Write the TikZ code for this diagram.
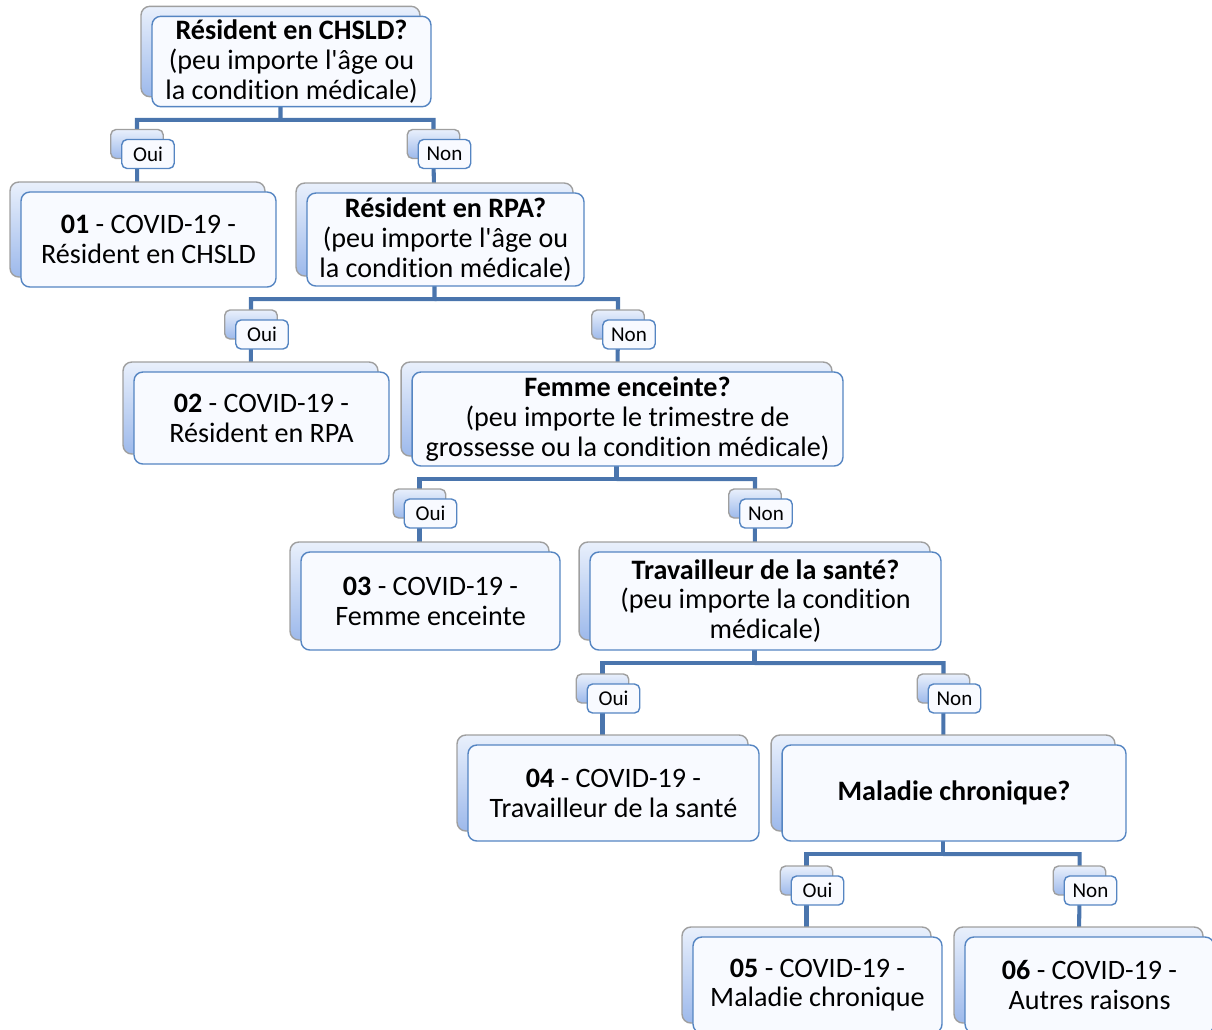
\documentclass[tikz,border=0pt]{standalone}
\usepackage{fontspec}
\setmainfont{Carlito}[Ligatures=NoCommon]
\usetikzlibrary{shadows,backgrounds}

\definecolor{lienbleu}{HTML}{4A75AD}
\definecolor{bordbleu}{HTML}{5585C2}
\definecolor{fondhaut}{HTML}{E9F0FC}
\definecolor{fondbas}{HTML}{9DB9EB}
\definecolor{fondcarte}{HTML}{F8FAFF}

\tikzset{
  carte/.style={draw=bordbleu, line width=0.8pt, rounded corners=5pt, fill=fondcarte, align=center, inner sep=2pt,
    general shadow={shadow xshift=-0.22cm, shadow yshift=0.2cm, draw=gray!75, top color=fondhaut, bottom color=fondbas}},
  question/.style={carte, font=\fontsize{16}{17}\selectfont},
  choix/.style={carte, font=\fontsize{12}{13}\selectfont, minimum width=1.05cm, minimum height=0.58cm, rounded corners=3pt},
  lien/.style={draw=lienbleu, line width=2.3pt}
}

\begin{document}
\begin{tikzpicture}[x=0.02cm, y=-0.02cm]
\useasboundingbox (0,0) rectangle (1212,1029);

% questions
\node[question, minimum width=5.58cm, minimum height=1.78cm] (q1) at (291.5,61.5)
  {\textbf{Résident en CHSLD?}\\(peu importe l\textquotesingle âge ou\\la condition médicale)};
\node[question, minimum width=5.54cm, minimum height=1.86cm] (q2) at (445.5,239.5)
  {\textbf{Résident en RPA?}\\(peu importe l\textquotesingle âge ou\\la condition médicale)};
\node[question, minimum width=8.62cm, minimum height=1.88cm] (q3) at (627.5,419)
  {\textbf{Femme enceinte?}\\(peu importe le trimestre de\\grossesse ou la condition médicale)};
\node[question, minimum width=7.02cm, minimum height=1.96cm] (q4) at (765.5,601)
  {\textbf{Travailleur de la santé?}\\(peu importe la condition\\médicale)};
\node[question, minimum width=6.88cm, minimum height=1.92cm] (q5) at (954,793)
  {\textbf{Maladie chronique?}};

% resultats
\node[question, minimum width=5.1cm, minimum height=1.9cm] (r1) at (148.5,239.5)
  {\textbf{01} - COVID-19 -\\Résident en CHSLD};
\node[question, minimum width=5.1cm, minimum height=1.84cm] (r2) at (261.5,418)
  {\textbf{02} - COVID-19 -\\Résident en RPA};
\node[question, minimum width=5.18cm, minimum height=1.96cm] (r3) at (430.5,601)
  {\textbf{03} - COVID-19 -\\Femme enceinte};
\node[question, minimum width=5.82cm, minimum height=1.92cm] (r4) at (613.5,793)
  {\textbf{04} - COVID-19 -\\Travailleur de la santé};
\node[question, minimum width=4.98cm, minimum height=1.92cm] (r5) at (817.5,985)
  {\textbf{05} - COVID-19 -\\Maladie chronique};
\node[question, minimum width=4.98cm, minimum height=1.92cm] (r6) at (1089.5,985)
  {\textbf{06} - COVID-19 -\\Autres raisons};

% oui / non
\node[choix] (oui1) at (148,154) {Oui};
\node[choix] (non1) at (444.5,154) {Non};
\node[choix] (oui2) at (262,334.5) {Oui};
\node[choix] (non2) at (629,334.5) {Non};
\node[choix] (oui3) at (430.5,513.5) {Oui};
\node[choix] (non3) at (766,513.5) {Non};
\node[choix] (oui4) at (613.5,698.5) {Oui};
\node[choix] (non4) at (954.5,698.5) {Non};
\node[choix] (oui5) at (817.5,890.5) {Oui};
\node[choix] (non5) at (1090.5,890.5) {Non};

\begin{scope}[on background layer]
\foreach \q/\o/\n/\a/\b in {q1/oui1/non1/r1/q2, q2/oui2/non2/r2/q3, q3/oui3/non3/r3/q4, q4/oui4/non4/r4/q5, q5/oui5/non5/r5/r6}{
  \draw[lien] ([xshift=-0.22cm]\q.center) -- ([xshift=-0.22cm,yshift=-0.25cm]\q.south)
    -| ([xshift=-0.22cm]\o.center) -- ([xshift=-0.22cm]\a.center);
  \draw[lien] ([xshift=-0.22cm,yshift=-0.25cm]\q.south)
    -| ([xshift=-0.22cm]\n.center) -- ([xshift=-0.22cm]\b.center);
}
\end{scope}
\end{tikzpicture}
\end{document}
